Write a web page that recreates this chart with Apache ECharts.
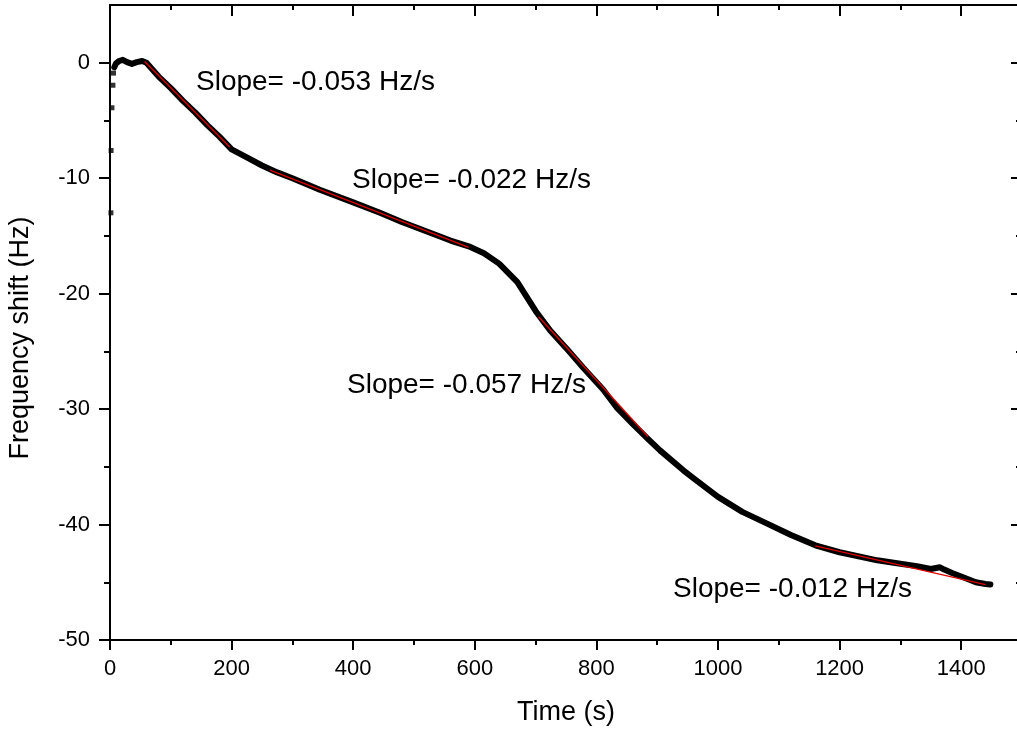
<!DOCTYPE html>
<html><head><meta charset="utf-8">
<script src="https://cdn.jsdelivr.net/npm/echarts@6/dist/echarts.min.js"></script>
<style>html,body{margin:0;padding:0;background:#fff}#c{width:1017px;height:735px}</style>
</head><body><div id="c"></div>
<script>
// ---- data ----
const timeS = [7,10,15,21,28,36,44,53,60,80,100,120,140,160,180,200,225,250,275,300,345,400,444,480,520,560,590,615,640,670,700,724,750,778,811,834,860,883,905,943,960,1000,1040,1080,1120,1160,1200,1262,1300,1327,1350,1365,1372,1385,1400,1424,1440,1448];
const freqHz = [-0.4,-0.05,0.15,0.25,0.05,-0.1,0.05,0.15,0.0,-1.2,-2.2,-3.3,-4.3,-5.4,-6.4,-7.5,-8.2,-8.9,-9.5,-10.0,-11.0,-12.1,-13.0,-13.8,-14.6,-15.4,-15.9,-16.5,-17.4,-19.0,-21.5,-23.2,-24.7,-26.4,-28.3,-29.9,-31.3,-32.5,-33.6,-35.3,-36.0,-37.6,-38.9,-39.9,-40.9,-41.8,-42.4,-43.1,-43.4,-43.6,-43.85,-43.7,-43.9,-44.2,-44.5,-45.0,-45.15,-45.2];
const startTime = [1.5, 1.8, 3.2, 4.8, 5.8];
const startFreq = [-13.0, -7.6, -3.9, -1.95, -0.9];
const fitTime = [[57,197],[263,590],[705,885],[1160,1440]];
const fitFreq = [[0.1,-7.3],[-9.3,-16.0],[-22.0,-32.4],[-41.85,-45.2]];
const slopeLabels = ['Slope= -0.053 Hz/s','Slope= -0.022 Hz/s','Slope= -0.057 Hz/s','Slope= -0.012 Hz/s'];
const xTicks = [0,200,400,600,800,1000,1200,1400];
const yTicks = [-50,-40,-30,-20,-10,0];
const xTitle = 'Time (s)';
const yTitle = 'Frequency shift (Hz)';

// ---- chart ----
const FF = '"Liberation Sans", Arial, Helvetica, sans-serif';
const chart = echarts.init(document.getElementById('c'), null, {renderer:'canvas'});
const lineStyle = {color:'#000', width:2};
const plain = v => String(v);
function xAx(pos, inside, labels){
  return {type:'value', position:pos, min:0, max:1500, interval:200,
    axisLine:{show:true, onZero:false, lineStyle},
    axisTick:{show:true, inside, length: inside?11:10, customValues:xTicks, lineStyle},
    minorTick:{show:true, splitNumber:2, length:5, lineStyle},
    axisLabel:{show:labels, customValues:xTicks, formatter:plain, margin:18, fontSize:22, color:'#000', fontFamily:FF},
    splitLine:{show:false}, minorSplitLine:{show:false}};
}
function yAx(pos, inside, labels){
  return {type:'value', position:pos, min:-50, max:5, interval:10,
    axisLine:{show:true, onZero:false, lineStyle},
    axisTick:{show:true, inside, length:11, customValues:yTicks, lineStyle},
    minorTick:{show:true, splitNumber:2, length:6, lineStyle},
    axisLabel:{show:labels, customValues:yTicks, formatter:plain, margin:20, fontSize:22, color:'#000', fontFamily:FF},
    splitLine:{show:false}, minorSplitLine:{show:false}};
}
const labelPos = [[196,82],[352,180],[347,385],[673,589]];
const option = {
  animation:false,
  backgroundColor:'#fff',
  grid:{left:110, top:5, width:912, height:635, containLabel:false, outerBoundsMode:'none'},
  xAxis:[xAx('bottom', false, true), xAx('top', true, false)],
  yAxis:[yAx('left', false, true), yAx('right', true, false)],
  series:[
    {type:'line', xAxisIndex:0, yAxisIndex:0, data: timeS.map((t,i)=>[t,freqHz[i]]), symbol:'none',
     lineStyle:{color:'#000', width:6, join:'round', cap:'round'}, z:2},
    {type:'scatter', xAxisIndex:0, yAxisIndex:0, data: startTime.map((t,i)=>[t,startFreq[i]]), symbol:'rect', symbolSize:5,
     itemStyle:{color:'#000'}, z:2},
    ...fitTime.map((ts,k)=>({type:'line', xAxisIndex:0, yAxisIndex:0, data: ts.map((t,i)=>[t,fitFreq[k][i]]), symbol:'none',
     lineStyle:{color:'#e00000', width:1.3}, z:3}))
  ],
  graphic:[
    ...slopeLabels.map((s,i)=>({type:'text', x:labelPos[i][0], y:labelPos[i][1],
      style:{text:s, fontSize:28, fontFamily:FF, fill:'#000', align:'left', verticalAlign:'middle'}})),
    {type:'text', x:566, y:713, style:{text:xTitle, fontSize:27, fontFamily:FF, fill:'#000', align:'center', verticalAlign:'middle'}},
    {type:'text', x:21, y:338, rotation:Math.PI/2, style:{text:yTitle, fontSize:27, fontFamily:FF, fill:'#000', align:'center', verticalAlign:'middle'}}
  ]
};
chart.setOption(option);
</script></body></html>
